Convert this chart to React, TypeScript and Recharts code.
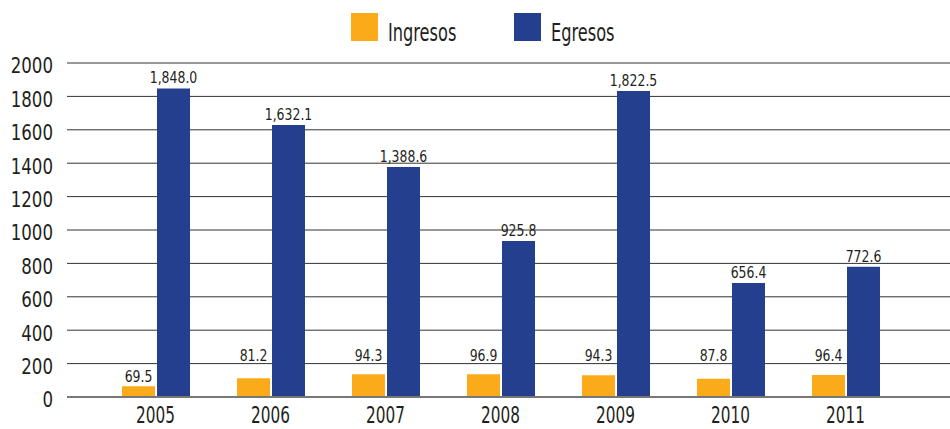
import React from "react";
import { BarChart, Bar, XAxis, YAxis, CartesianGrid, LabelList } from "recharts";

const years = ["2005", "2006", "2007", "2008", "2009", "2010", "2011"];
const ingresosValues = [64, 112, 136, 136, 130, 110, 132];
const egresosValues = [1848, 1629, 1377, 934, 1832, 683, 780];
const ingresosLabels = ["69.5", "81.2", "94.3", "96.9", "94.3", "87.8", "96.4"];
const egresosLabels = ["1,848.0", "1,632.1", "1,388.6", "925.8", "1,822.5", "656.4", "772.6"];
const yTicks = [0, 200, 400, 600, 800, 1000, 1200, 1400, 1600, 1800, 2000];
const seriesNames = ["Ingresos", "Egresos"];
const seriesColors = ["#FBAA19", "#243F8E"];

const data = years.map((y, i) => ({
  year: y,
  ingresos: ingresosValues[i],
  egresos: egresosValues[i],
}));

const FONT = "'DejaVu Sans Condensed', 'Liberation Sans Narrow', sans-serif";
const TEXT = "#231F20";

const NarrowText = ({ x, y, anchor, size, sx, children, dy }: any) => (
  <g transform={`translate(${x},${y}) scale(${sx},1)`}>
    <text x={0} y={0} dy={dy || 0} textAnchor={anchor} fill={TEXT} fontSize={size} fontFamily={FONT}>
      {children}
    </text>
  </g>
);

const EgresosLabel = (props: any) => {
  const { x, y, width, index } = props;
  return (
    <NarrowText x={x + width / 2} y={y - 5} anchor="middle" size={16.5} sx={0.84}>
      {egresosLabels[index]}
    </NarrowText>
  );
};

const IngresosLabel = (props: any) => {
  const { x, y, width, height, value, index } = props;
  const bottom = y + height;
  const perUnit = value ? height / value : 0;
  const y200 = bottom - 200 * perUnit;
  const ty = index === 0 ? y - 4 : y200 - 3;
  return (
    <NarrowText x={x + width / 2} y={ty} anchor="middle" size={16.5} sx={0.84}>
      {ingresosLabels[index]}
    </NarrowText>
  );
};

const YTick = (props: any) => {
  const { x, y, payload } = props;
  return (
    <NarrowText x={x} y={y + 3} anchor="end" size={21} sx={0.88} dy="0.355em">
      {payload.value}
    </NarrowText>
  );
};

const XTick = (props: any) => {
  const { x, y, payload } = props;
  return (
    <NarrowText x={x} y={y + 22} anchor="middle" size={23} sx={0.74}>
      {payload.value}
    </NarrowText>
  );
};

const legendSquareX = [351, 514];
const legendTextX = [388, 551];

export default function App() {
  return (
    <div style={{ position: "absolute", left: 0, top: 0, width: 950, height: 429, background: "#fff", overflow: "hidden" }}>
      {seriesNames.map((n, i) => (
        <React.Fragment key={n}>
          <div style={{ position: "absolute", left: legendSquareX[i], top: 13, width: 27, height: 28, background: seriesColors[i] }} />
          <div
            style={{
              position: "absolute",
              left: legendTextX[i],
              top: 20,
              height: 25,
              lineHeight: "25px",
              fontFamily: FONT,
              fontSize: 25,
              color: TEXT,
              transform: "scaleX(0.72)",
              transformOrigin: "left center",
              whiteSpace: "nowrap",
            }}
          >
            {n}
          </div>
        </React.Fragment>
      ))}
      <BarChart
        width={950}
        height={429}
        data={data}
        margin={{ top: 63, right: 0, bottom: 0, left: 0 }}
        barGap={2}
        barSize={33}
      >
        <CartesianGrid vertical={false} stroke="#333" strokeWidth={1} />
        <XAxis
          dataKey="year"
          padding={{ left: 31, right: 47 }}
          height={32}
          tickLine={false}
          tickSize={0}
          tickMargin={4}
          axisLine={{ stroke: "#777", strokeWidth: 2 }}
          tick={<XTick />}
        />
        <YAxis
          width={67}
          domain={[0, 2000]}
          ticks={yTicks}
          interval={0}
          axisLine={false}
          tickLine={false}
          tickSize={0}
          tickMargin={14}
          tick={<YTick />}
        />
        <Bar dataKey="ingresos" fill={seriesColors[0]} isAnimationActive={false}>
          <LabelList dataKey="ingresos" content={<IngresosLabel />} />
        </Bar>
        <Bar dataKey="egresos" fill={seriesColors[1]} isAnimationActive={false}>
          <LabelList dataKey="egresos" content={<EgresosLabel />} />
        </Bar>
      </BarChart>
    </div>
  );
}
